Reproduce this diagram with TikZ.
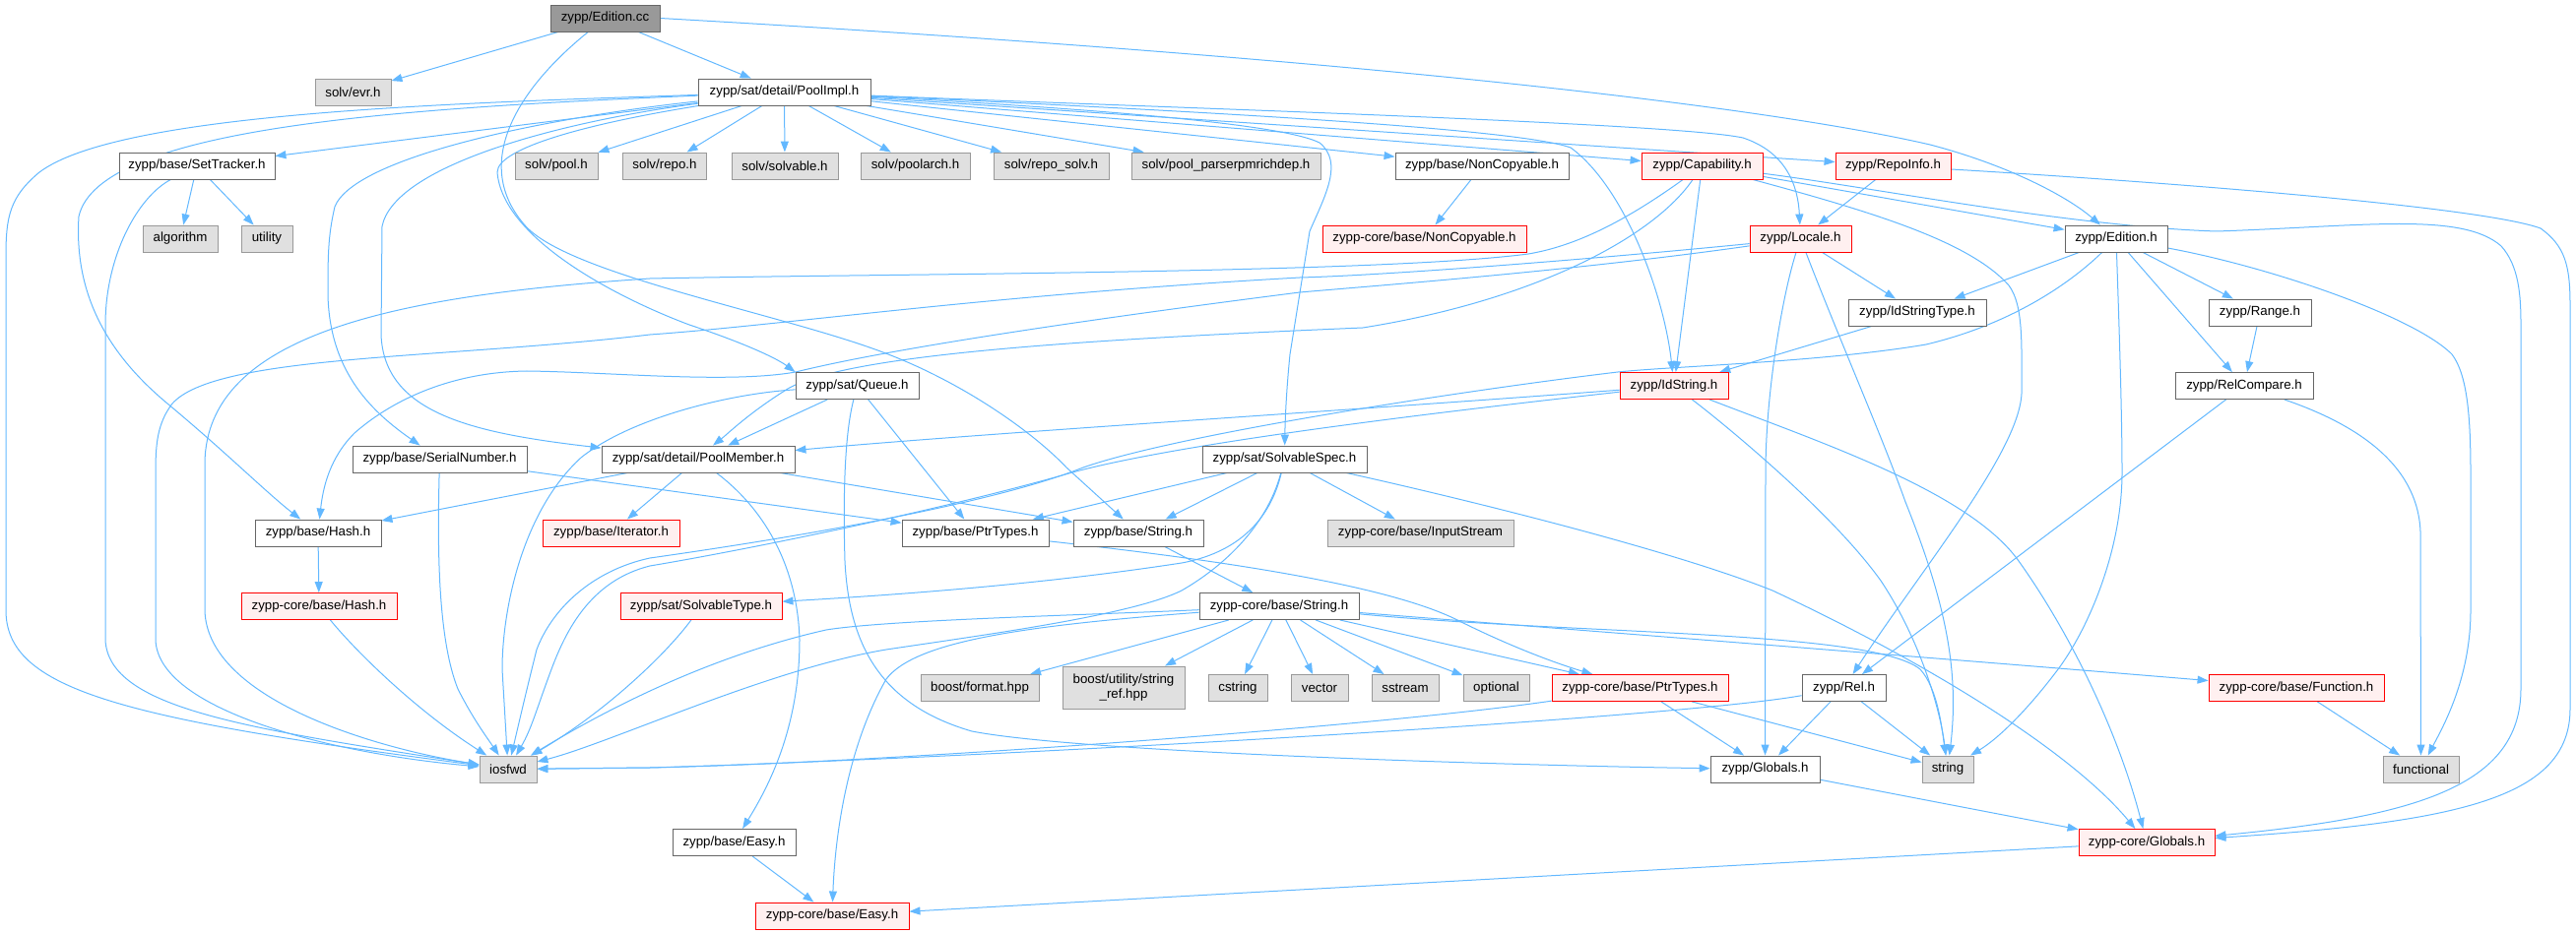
\documentclass[tikz,border=0pt]{standalone}
\usepackage{fontspec}
\setmainfont{Liberation Sans}
\usetikzlibrary{arrows.meta,backgrounds}
\definecolor{edgec}{HTML}{63B8FF}
\definecolor{bordc}{HTML}{666666}
\definecolor{gfill}{HTML}{E0E0E0}
\definecolor{gbord}{HTML}{999999}
\definecolor{rfill}{HTML}{FFF0F0}
\definecolor{rbord}{HTML}{FF0000}
\definecolor{rootfill}{HTML}{999999}
\newcommand\nfont{\fontsize{13.3}{15}\selectfont}
\tikzset{
  nbox/.style={draw=bordc, fill=white, line width=0.9pt, minimum height=27pt, inner sep=0pt, font=\nfont, text=black},
  gbox/.style={nbox, draw=gbord, fill=gfill},
  rbox/.style={nbox, draw=rbord, fill=rfill},
  conn/.style={draw=edgec, line width=1pt, -{Triangle[length=11pt,width=8pt]}},
}
\begin{document}
\begin{tikzpicture}[x=1pt,y=-1pt]
\useasboundingbox (0,0) rectangle (2616,949);
% ---------- nodes ----------
\node[nbox, fill=rootfill, minimum width=111pt] (EditionCC) at (614.5,18.5) {zypp/Edition.cc};
\node[gbox, minimum width=77pt] (evr) at (358.5,93.5) {solv/evr.h};
\node[nbox, minimum width=175pt] (PoolImpl) at (796.5,93.5) {zypp/sat/detail/PoolImpl.h};
\node[nbox, minimum width=158pt] (SetTracker) at (200,168.5) {zypp/base/SetTracker.h};
\node[gbox, minimum width=84pt] (solvpool) at (565,168.5) {solv/pool.h};
\node[gbox, minimum width=85pt] (solvrepo) at (675,168.5) {solv/repo.h};
\node[gbox, minimum width=108pt] (solvable) at (797,168.5) {solv/solvable.h};
\node[gbox, minimum width=111pt] (poolarch) at (929.5,168.5) {solv/poolarch.h};
\node[gbox, minimum width=117pt] (reposolv) at (1067.5,168.5) {solv/repo\_solv.h};
\node[gbox, minimum width=192pt] (richdep) at (1245,168.5) {solv/pool\_parserpmrichdep.h};
\node[nbox, minimum width=176pt] (NonCopyable) at (1505,168.5) {zypp/base/NonCopyable.h};
\node[rbox, minimum width=123pt] (Capability) at (1728.5,168.5) {zypp/Capability.h};
\node[rbox, minimum width=117pt] (RepoInfo) at (1922.5,168.5) {zypp/RepoInfo.h};
\node[gbox, minimum width=76pt] (algorithm) at (183,242.5) {algorithm};
\node[gbox, minimum width=52pt] (utility) at (271,242.5) {utility};
\node[rbox, minimum width=207pt] (coreNonCopyable) at (1446.5,242.5) {zypp-core/base/NonCopyable.h};
\node[rbox, minimum width=103pt] (Locale) at (1828.5,242.5) {zypp/Locale.h};
\node[nbox, minimum width=104pt] (EditionH) at (2149,242.5) {zypp/Edition.h};
\node[nbox, minimum width=140pt] (IdStringType) at (1947,317.5) {zypp/IdStringType.h};
\node[nbox, minimum width=104pt] (RangeH) at (2295,317.5) {zypp/Range.h};
\node[nbox, minimum width=125pt] (Queue) at (870.5,392) {zypp/sat/Queue.h};
\node[rbox, minimum width=110pt] (IdString) at (1700,392) {zypp/IdString.h};
\node[nbox, minimum width=140pt] (RelCompare) at (2279,392) {zypp/RelCompare.h};
\node[nbox, minimum width=177pt] (SerialNumber) at (446.5,466.5) {zypp/base/SerialNumber.h};
\node[nbox, minimum width=196pt] (PoolMember) at (709,466.5) {zypp/sat/detail/PoolMember.h};
\node[nbox, minimum width=167pt] (SolvableSpec) at (1304.5,466.5) {zypp/sat/SolvableSpec.h};
\node[nbox, minimum width=128pt] (Hash) at (323,541.5) {zypp/base/Hash.h};
\node[rbox, minimum width=139pt] (Iterator) at (620.5,541.5) {zypp/base/Iterator.h};
\node[nbox, minimum width=149pt] (PtrTypes) at (990.5,541.5) {zypp/base/PtrTypes.h};
\node[nbox, minimum width=132pt] (strH) at (1156,541.5) {zypp/base/String.h};
\node[gbox, minimum width=189pt] (InputStream) at (1442.5,541.5) {zypp-core/base/InputStream};
\node[rbox, minimum width=158pt] (coreHash) at (324,616) {zypp-core/base/Hash.h};
\node[rbox, minimum width=164pt] (SolvableType) at (712,616) {zypp/sat/SolvableType.h};
\node[nbox, minimum width=162pt] (coreString) at (1299,616) {zypp-core/base/String.h};
\node[gbox, minimum width=120pt] (boostformat) at (995,699) {boost/format.hpp};
\node[gbox, minimum width=124pt, minimum height=43pt, align=center] (stringref) at (1141,698.5) {boost/utility/string\\\_ref.hpp};
\node[gbox, minimum width=60pt] (cstringH) at (1257,699) {cstring};
\node[gbox, minimum width=58pt] (vectorH) at (1340,699) {vector};
\node[gbox, minimum width=68pt] (sstreamH) at (1427,699) {sstream};
\node[gbox, minimum width=67pt] (optionalH) at (1519.5,699) {optional};
\node[rbox, minimum width=179pt] (corePtrTypes) at (1665.5,699) {zypp-core/base/PtrTypes.h};
\node[nbox, minimum width=85pt] (Rel) at (1872.5,699) {zypp/Rel.h};
\node[rbox, minimum width=178pt] (Function) at (2332,699) {zypp-core/base/Function.h};
\node[gbox, minimum width=58pt] (iosfwd) at (516,781.5) {iosfwd};
\node[nbox, minimum width=111pt] (Globals) at (1792.5,781.5) {zypp/Globals.h};
\node[gbox, minimum width=52pt] (stdstring) at (1978,781.5) {string};
\node[gbox, minimum width=77pt] (functionalH) at (2458.5,781.5) {functional};
\node[nbox, minimum width=125pt] (Easy) at (745.5,856) {zypp/base/Easy.h};
\node[rbox, minimum width=138pt] (coreGlobals) at (2180,856) {zypp-core/Globals.h};
\node[rbox, minimum width=156pt] (coreEasy) at (845,930.5) {zypp-core/base/Easy.h};
% ---------- connectors ----------
\begin{pgfonlayer}{background}
% Edition.cc
\draw[conn] (EditionCC) -- (evr);
\draw[conn] (EditionCC) -- (PoolImpl);
\draw[conn] (EditionCC.east) .. controls (1400,60) and (1800,110) .. (1960,147) .. controls (2040,168) and (2100,200) .. (EditionH);
\draw[conn] (EditionCC) .. controls (520,95) and (480,170) .. (534,230) .. controls (580,280) and (800,320) .. (902,360) .. controls (980,390) and (1050,440) .. (1083,475) -- (strH);
% PoolImpl
\draw[conn] (PoolImpl) .. controls (450,105) and (120,115) .. (40,175) .. controls (10,200) and (6,220) .. (6,260) -- (6,620) .. controls (6,700) and (120,730) .. (iosfwd);
\draw[conn] (PoolImpl) -- (SetTracker);
\draw[conn] (PoolImpl) -- (solvpool);
\draw[conn] (PoolImpl) -- (solvrepo);
\draw[conn] (PoolImpl) -- (solvable);
\draw[conn] (PoolImpl) -- (poolarch);
\draw[conn] (PoolImpl) -- (reposolv);
\draw[conn] (PoolImpl) -- (richdep);
\draw[conn] (PoolImpl) -- (NonCopyable);
\draw[conn] (PoolImpl) -- (Capability);
\draw[conn] (PoolImpl) -- (RepoInfo);
\draw[conn] (PoolImpl) .. controls (1200,110) and (1700,125) .. (1770,140) .. controls (1815,155) and (1826,190) .. (Locale);
\draw[conn] (PoolImpl) .. controls (1200,112) and (1540,130) .. (1595,150) .. controls (1650,190) and (1690,300) .. (IdString);
\draw[conn] (PoolImpl) .. controls (1100,110) and (1300,125) .. (1340,145) .. controls (1365,165) and (1345,200) .. (1330,235) -- (1310,360) .. controls (1306,400) and (1305,430) .. (SolvableSpec);
\draw[conn] (PoolImpl) .. controls (600,125) and (505,150) .. (505,175) .. controls (510,240) and (620,300) .. (700,330) .. controls (760,350) and (790,365) .. (Queue.north west);
\draw[conn] (PoolImpl) .. controls (550,120) and (360,160) .. (340,210) .. controls (333,240) and (333,260) .. (333,300) .. controls (335,380) and (380,420) .. (SerialNumber);
\draw[conn] (PoolImpl) .. controls (560,125) and (400,170) .. (388,230) -- (387,340) .. controls (390,420) and (480,440) .. (PoolMember);
\draw[conn] (PoolImpl) .. controls (400,110) and (100,130) .. (80,220) .. controls (75,300) and (110,360) .. (170,410) .. controls (230,460) and (270,500) .. (Hash);
% SetTracker
\draw[conn] (SetTracker) -- (algorithm);
\draw[conn] (SetTracker) -- (utility);
\draw[conn] (SetTracker) .. controls (140,200) and (107,260) .. (107,330) -- (107,650) .. controls (110,720) and (250,740) .. (iosfwd);
% NonCopyable
\draw[conn] (NonCopyable) -- (coreNonCopyable);
% Capability
\draw[conn] (Capability) -- (IdString);
\draw[conn] (Capability) -- (EditionH);
\draw[conn] (Capability) .. controls (1900,215) and (2000,245) .. (2040,290) .. controls (2055,310) and (2053,350) .. (2053,400) .. controls (2050,460) and (1950,580) .. (Rel);
\draw[conn] (Capability) .. controls (1900,190) and (2100,230) .. (2251,235) .. controls (2400,230) and (2500,215) .. (2540,250) .. controls (2558,270) and (2560,300) .. (2560,330) -- (2560,700) .. controls (2560,800) and (2450,830) .. (coreGlobals);
\draw[conn] (Capability) .. controls (1650,225) and (1600,250) .. (1552,258) .. controls (1400,278) and (900,278) .. (660,283) .. controls (400,300) and (210,340) .. (208,470) -- (208,620) .. controls (210,710) and (380,760) .. (iosfwd);
\draw[conn] (Capability) .. controls (1680,240) and (1560,305) .. (1384,333) .. controls (1100,345) and (860,360) .. (800,395) .. controls (760,420) and (740,440) .. ([xshift=15pt]PoolMember.north);
% RepoInfo
\draw[conn] (RepoInfo) -- (Locale);
\draw[conn] (RepoInfo) .. controls (2200,185) and (2520,210) .. (2580,232) .. controls (2605,250) and (2610,270) .. (2610,310) -- (2610,720) .. controls (2610,810) and (2500,835) .. (coreGlobals);
% Locale
\draw[conn] (Locale) -- (IdStringType);
\draw[conn] (Locale) .. controls (1810,300) and (1793,400) .. (1793,480) -- (Globals);
\draw[conn] (Locale) .. controls (1870,350) and (1910,440) .. (1935,510) .. controls (1975,610) and (1990,680) .. (stdstring);
\draw[conn] (Locale) .. controls (1600,265) and (1400,280) .. (1320,282) .. controls (1000,300) and (800,330) .. (660,340) .. controls (450,365) and (220,360) .. (175,410) .. controls (160,430) and (158,450) .. (158,480) -- (158,650) .. controls (160,720) and (330,765) .. (iosfwd);
\draw[conn] (Locale) .. controls (1600,275) and (1400,290) .. (1320,297) .. controls (1100,325) and (900,355) .. (808,378) .. controls (740,390) and (620,378) .. (535,377) .. controls (460,378) and (400,405) .. (360,440) .. controls (335,465) and (328,495) .. (Hash);
% Edition.h
\draw[conn] (EditionH) -- (IdStringType);
\draw[conn] (EditionH) -- (RangeH);
\draw[conn] (EditionH) -- (RelCompare);
\draw[conn] (EditionH) .. controls (2152,330) and (2155,420) .. (2155,480) .. controls (2155,560) and (2120,640) .. (2090,680) .. controls (2060,720) and (2030,750) .. (stdstring);
\draw[conn] (EditionH) .. controls (2300,270) and (2450,320) .. (2490,360) .. controls (2505,380) and (2509,420) .. (2509,480) -- (2509,620) .. controls (2509,690) and (2480,740) .. (functionalH);
\draw[conn] (EditionH) .. controls (2100,290) and (2040,330) .. (1956,350) .. controls (1850,368) and (1700,372) .. (1643,378) .. controls (1500,395) and (1200,440) .. (1100,475) .. controls (1000,515) and (780,550) .. (660,567) .. controls (600,580) and (560,620) .. (545,660) .. controls (535,700) and (528,730) .. (iosfwd);
% IdStringType, Range, RelCompare
\draw[conn] (IdStringType) -- (IdString);
\draw[conn] (RangeH) -- (RelCompare);
\draw[conn] (RelCompare) -- (Rel);
\draw[conn] (RelCompare) .. controls (2390,430) and (2455,470) .. (2458,540) -- (functionalH);
% Queue
\draw[conn] (Queue) -- (PoolMember);
\draw[conn] (Queue) -- (PtrTypes);
\draw[conn] (Queue) .. controls (858,440) and (856,500) .. (858,570) .. controls (862,650) and (890,715) .. (987,743) .. controls (1100,765) and (1550,778) .. (Globals);
\draw[conn] (Queue) .. controls (740,400) and (640,425) .. (590,465) .. controls (530,520) and (510,620) .. (510,680) -- (iosfwd);
% IdString
\draw[conn] (IdString) .. controls (1400,415) and (1000,440) .. (PoolMember);
\draw[conn] (IdString) .. controls (1450,420) and (1200,450) .. (1089,480) .. controls (950,520) and (750,560) .. (660,575) .. controls (600,590) and (575,640) .. (560,680) .. controls (545,720) and (540,740) .. (iosfwd);
\draw[conn] (IdString) .. controls (1750,430) and (1860,520) .. (1910,590) .. controls (1950,650) and (1970,720) .. (stdstring);
\draw[conn] (IdString) .. controls (1850,450) and (2000,500) .. (2050,570) .. controls (2100,640) and (2150,740) .. (coreGlobals);
% SerialNumber
\draw[conn] (SerialNumber) -- (PtrTypes);
\draw[conn] (SerialNumber) .. controls (444,560) and (445,650) .. (465,700) .. controls (480,730) and (495,750) .. (iosfwd);
% PoolMember
\draw[conn] (PoolMember) -- (Hash);
\draw[conn] (PoolMember) -- (Iterator);
\draw[conn] (PoolMember) -- (strH);
\draw[conn] (PoolMember) .. controls (780,520) and (810,580) .. (812,650) .. controls (812,740) and (780,800) .. (Easy);
% SolvableSpec
\draw[conn] (SolvableSpec) -- (PtrTypes);
\draw[conn] (SolvableSpec) -- (strH);
\draw[conn] (SolvableSpec) -- (InputStream);
\draw[conn] (SolvableSpec) .. controls (1292,520) and (1265,560) .. (1200,572) .. controls (1050,595) and (900,605) .. (SolvableType);
\draw[conn] (SolvableSpec) .. controls (1285,540) and (1235,580) .. (1200,600) .. controls (1150,625) and (1000,645) .. (900,660) .. controls (780,680) and (620,755) .. (iosfwd);
\draw[conn] (SolvableSpec) .. controls (1500,510) and (1700,560) .. (1800,600) .. controls (1950,670) and (2100,760) .. (coreGlobals);
% SolvableType
\draw[conn] (SolvableType) .. controls (680,660) and (620,720) .. (iosfwd);
% Hash
\draw[conn] (Hash) -- (coreHash);
\draw[conn] (coreHash) .. controls (360,660) and (420,720) .. (iosfwd);
% PtrTypes, String
\draw[conn] (PtrTypes) .. controls (1200,565) and (1400,590) .. (1480,630) .. controls (1550,665) and (1600,680) .. (corePtrTypes);
\draw[conn] (strH) -- (coreString);
% zypp-core/base/String.h
\draw[conn] (coreString) -- (boostformat);
\draw[conn] (coreString) -- (stringref);
\draw[conn] (coreString) -- (cstringH);
\draw[conn] (coreString) -- (vectorH);
\draw[conn] (coreString) -- (sstreamH);
\draw[conn] (coreString) -- (optionalH);
\draw[conn] (coreString) -- (corePtrTypes);
\draw[conn] (coreString) .. controls (1050,635) and (930,650) .. (900,690) .. controls (860,760) and (848,850) .. (coreEasy);
\draw[conn] (coreString) .. controls (1100,625) and (900,630) .. (839,640) .. controls (750,660) and (650,700) .. (iosfwd);
\draw[conn] (coreString) .. controls (1600,640) and (1960,668) .. (Function);
\draw[conn] (coreString) .. controls (1600,645) and (1900,640) .. (1950,680) .. controls (1968,700) and (1972,740) .. (stdstring);
% zypp-core/base/PtrTypes.h
\draw[conn] (corePtrTypes) .. controls (1400,738) and (900,775) .. (660,780) -- (iosfwd);
\draw[conn] (corePtrTypes) -- (Globals);
\draw[conn] (corePtrTypes) -- (stdstring);
% Rel
\draw[conn] (Rel) .. controls (1700,730) and (1000,770) .. (660,780) -- (iosfwd);
\draw[conn] (Rel) -- (Globals);
\draw[conn] (Rel) -- (stdstring);
% rest
\draw[conn] (Function) -- (functionalH);
\draw[conn] (Globals) -- (coreGlobals);
\draw[conn] (Easy) -- (coreEasy);
\draw[conn] (coreGlobals) -- (coreEasy);
\end{pgfonlayer}
\end{tikzpicture}
\end{document}
